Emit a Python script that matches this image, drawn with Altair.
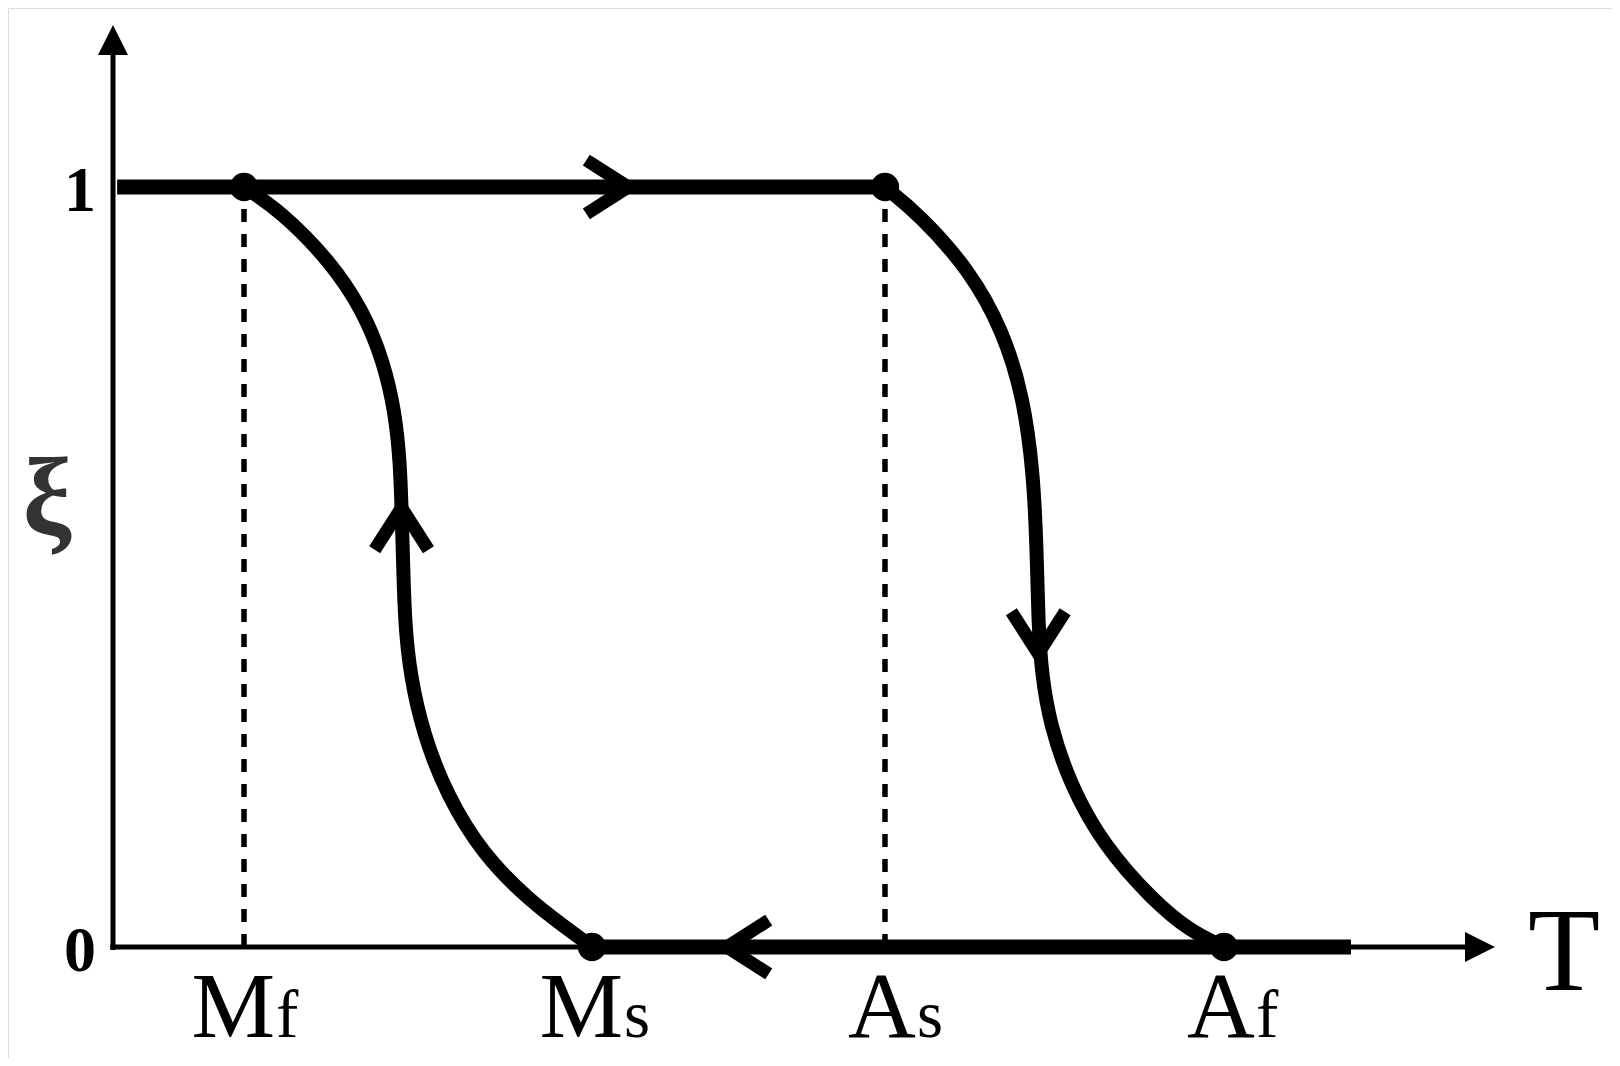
import altair as alt
import pandas as pd

# ---- data (schematic units: T on the horizontal axis, xi = martensite fraction) ----
temp_names = ["M", "M", "A", "A"]
temp_subs = ["f", "s", "s", "f"]
temp_T = [9.48, 34.66, 55.86, 80.39]          # Mf, Ms, As, Af

# plateaus
top_T = [0.3, 55.86]        # xi = 1 from start to As
top_xi = [1, 1]
bottom_T = [34.66, 89.58]   # xi = 0 from Ms to end
bottom_xi = [0, 0]

# heating branch As -> Af
heat_T = [55.86, 58.39, 62.01, 64.42, 65.87, 66.59, 66.84, 66.95, 67.20,
          67.80, 69.25, 71.66, 75.27, 77.93, 80.39]
heat_xi = [1.0, 0.963, 0.890, 0.810, 0.724, 0.625, 0.525, 0.426, 0.359,
           0.293, 0.214, 0.134, 0.061, 0.021, 0.0]

# cooling branch Ms -> Mf (listed from Mf)
cool_T = [9.48, 12.08, 15.70, 18.11, 19.56, 20.41, 20.77, 20.89, 21.01,
          21.13, 21.49, 22.45, 24.15, 26.79, 30.17, 32.58, 34.66]
cool_xi = [1.0, 0.969, 0.903, 0.837, 0.771, 0.704, 0.638, 0.572, 0.492,
           0.426, 0.359, 0.280, 0.200, 0.121, 0.061, 0.028, 0.0]

# direction arrows on the cycle (tip position, direction in degrees)
arrow_T = [37.29, 44.41, 20.88, 66.95]
arrow_xi = [1.0, 0.0, 0.578, 0.386]
arrow_dir = [0, 180, 270, 90]

# dots at the transformation points
dot_T = temp_T
dot_xi = [1, 0, 1, 0]

# dashed guides at Mf and As
guide_T = [9.48, 55.86]

# y tick labels
ytick_vals = [0, 1]
ytick_text = ["0", "1"]

# axis extents
axis_T_tip = 100.0
axis_xi_tip = 1.213

# ---- scales ----
xs = alt.Scale(domain=[0, 100], range=[105, 1487], nice=False, zero=False)
ys = alt.Scale(domain=[0, 1], range=[939, 179], nice=False, zero=False)
X = lambda f: alt.X(f, type="quantitative", scale=xs, axis=None)
Y = lambda f: alt.Y(f, type="quantitative", scale=ys, axis=None)

SERIF = "Liberation Serif"
BLACK = "#000000"

segs = []
for name, tt, xx in [("top", top_T, top_xi), ("bottom", bottom_T, bottom_xi)]:
    for i, (t, x) in enumerate(zip(tt, xx)):
        segs.append({"seg": name, "i": i, "T": t, "xi": x})
lines_df = pd.DataFrame(segs)

curves = []
for name, tt, xx in [("heat", heat_T, heat_xi), ("cool", cool_T, cool_xi)]:
    for i, (t, x) in enumerate(zip(tt, xx)):
        curves.append({"seg": name, "i": i, "T": t, "xi": x})
curves_df = pd.DataFrame(curves)

arrows_df = pd.DataFrame({"T": arrow_T, "xi": arrow_xi, "dir": arrow_dir})
dots_df = pd.DataFrame({"T": dot_T, "xi": dot_xi})
guides_df = pd.DataFrame({"T": guide_T, "y0": [0] * len(guide_T), "y1": [1] * len(guide_T)})
labels_df = pd.DataFrame({"T": temp_T, "name": temp_names, "sub": temp_subs})
yt_df = pd.DataFrame({"v": ytick_vals, "t": ytick_text})

# axes lines
y_axis = alt.Chart(pd.DataFrame({"a": [0.0], "b": [-0.004], "c": [axis_xi_tip - 0.035]})).mark_rule(
    color=BLACK, strokeWidth=5
).encode(x=X("a:Q"), y=Y("b:Q"), y2="c:Q")
x_axis = alt.Chart(pd.DataFrame({"a": [-0.2], "b": [axis_T_tip - 2.0], "c": [0.0]})).mark_rule(
    color=BLACK, strokeWidth=5
).encode(x=X("a:Q"), x2="b:Q", y=Y("c:Q"))

head_shape = "M 0 0 L -2 1 L -2 -1 Z"
heads_df = pd.DataFrame({"T": [0.0, axis_T_tip], "xi": [axis_xi_tip, 0.0], "dir": [270, 0]})
heads = alt.Chart(heads_df).mark_point(
    shape=head_shape, filled=True, color=BLACK, size=900, opacity=1, strokeWidth=0
).encode(x=X("T:Q"), y=Y("xi:Q"), angle=alt.Angle("dir:Q", scale=None))

guides = alt.Chart(guides_df).mark_rule(
    color=BLACK, strokeWidth=5.5, strokeDash=[13, 12]
).encode(x=X("T:Q"), y=Y("y0:Q"), y2="y1:Q")

plateaus = alt.Chart(lines_df).mark_line(
    color=BLACK, strokeWidth=15, strokeCap="butt"
).encode(x=X("T:Q"), y=Y("xi:Q"), detail="seg:N", order="i:Q")

branches = alt.Chart(curves_df).mark_line(
    color=BLACK, strokeWidth=14, strokeCap="butt", interpolate="basis"
).encode(x=X("T:Q"), y=Y("xi:Q"), detail="seg:N", order="i:Q")

chevron = "M -1 -0.64 L 0 0 L -1 0.64"
arrows = alt.Chart(arrows_df).mark_point(
    shape=chevron, filled=False, color=BLACK, size=7056, strokeWidth=13,
    opacity=1, strokeJoin="miter", strokeCap="butt"
).encode(x=X("T:Q"), y=Y("xi:Q"), angle=alt.Angle("dir:Q", scale=None))

dots = alt.Chart(dots_df).mark_circle(color=BLACK, size=800, opacity=1).encode(
    x=X("T:Q"), y=Y("xi:Q")
)

main_lbl = alt.Chart(labels_df).mark_text(
    align="right", baseline="alphabetic", dx=31, dy=90, fontSize=94, font=SERIF, color=BLACK
).encode(x=X("T:Q"), y=alt.Y(datum=0, scale=ys, axis=None), text="name:N")
sub_lbl = alt.Chart(labels_df).mark_text(
    align="left", baseline="alphabetic", dx=32, dy=90, fontSize=67, font=SERIF, color=BLACK
).encode(x=X("T:Q"), y=alt.Y(datum=0, scale=ys, axis=None), text="sub:N")

ytick_lbl = alt.Chart(yt_df).mark_text(
    align="center", baseline="alphabetic", dx=-33, dy=24, fontSize=64, fontWeight="bold",
    font=SERIF, color=BLACK
).encode(x=alt.X(datum=0, scale=xs, axis=None), y=Y("v:Q"), text="t:N")

t_lbl = alt.Chart(pd.DataFrame({"t": ["T"]})).mark_text(
    align="center", baseline="alphabetic", dx=69, dy=43, fontSize=118, font=SERIF, color=BLACK
).encode(x=alt.X(datum=axis_T_tip, scale=xs, axis=None),
         y=alt.Y(datum=0, scale=ys, axis=None), text="t:N")

xi_lbl = alt.Chart(pd.DataFrame({"t": ["ξ"]})).mark_text(
    align="center", baseline="middle", dx=-66, fontSize=110, fontWeight="bold",
    font=SERIF, color="#333333"
).encode(x=alt.X(datum=0, scale=xs, axis=None),
         y=alt.Y(datum=0.587, scale=ys, axis=None), text="t:N")

chart = alt.layer(
    guides, y_axis, x_axis, heads, plateaus, branches, arrows, dots,
    main_lbl, sub_lbl, ytick_lbl, t_lbl, xi_lbl
).properties(
    width=1604, height=1050, padding=0, autosize=alt.AutoSizeParams(type="none")
).configure_view(stroke=None).configure(background="white")

chart.save("out.html", embed_options={"renderer": "svg", "actions": False})
